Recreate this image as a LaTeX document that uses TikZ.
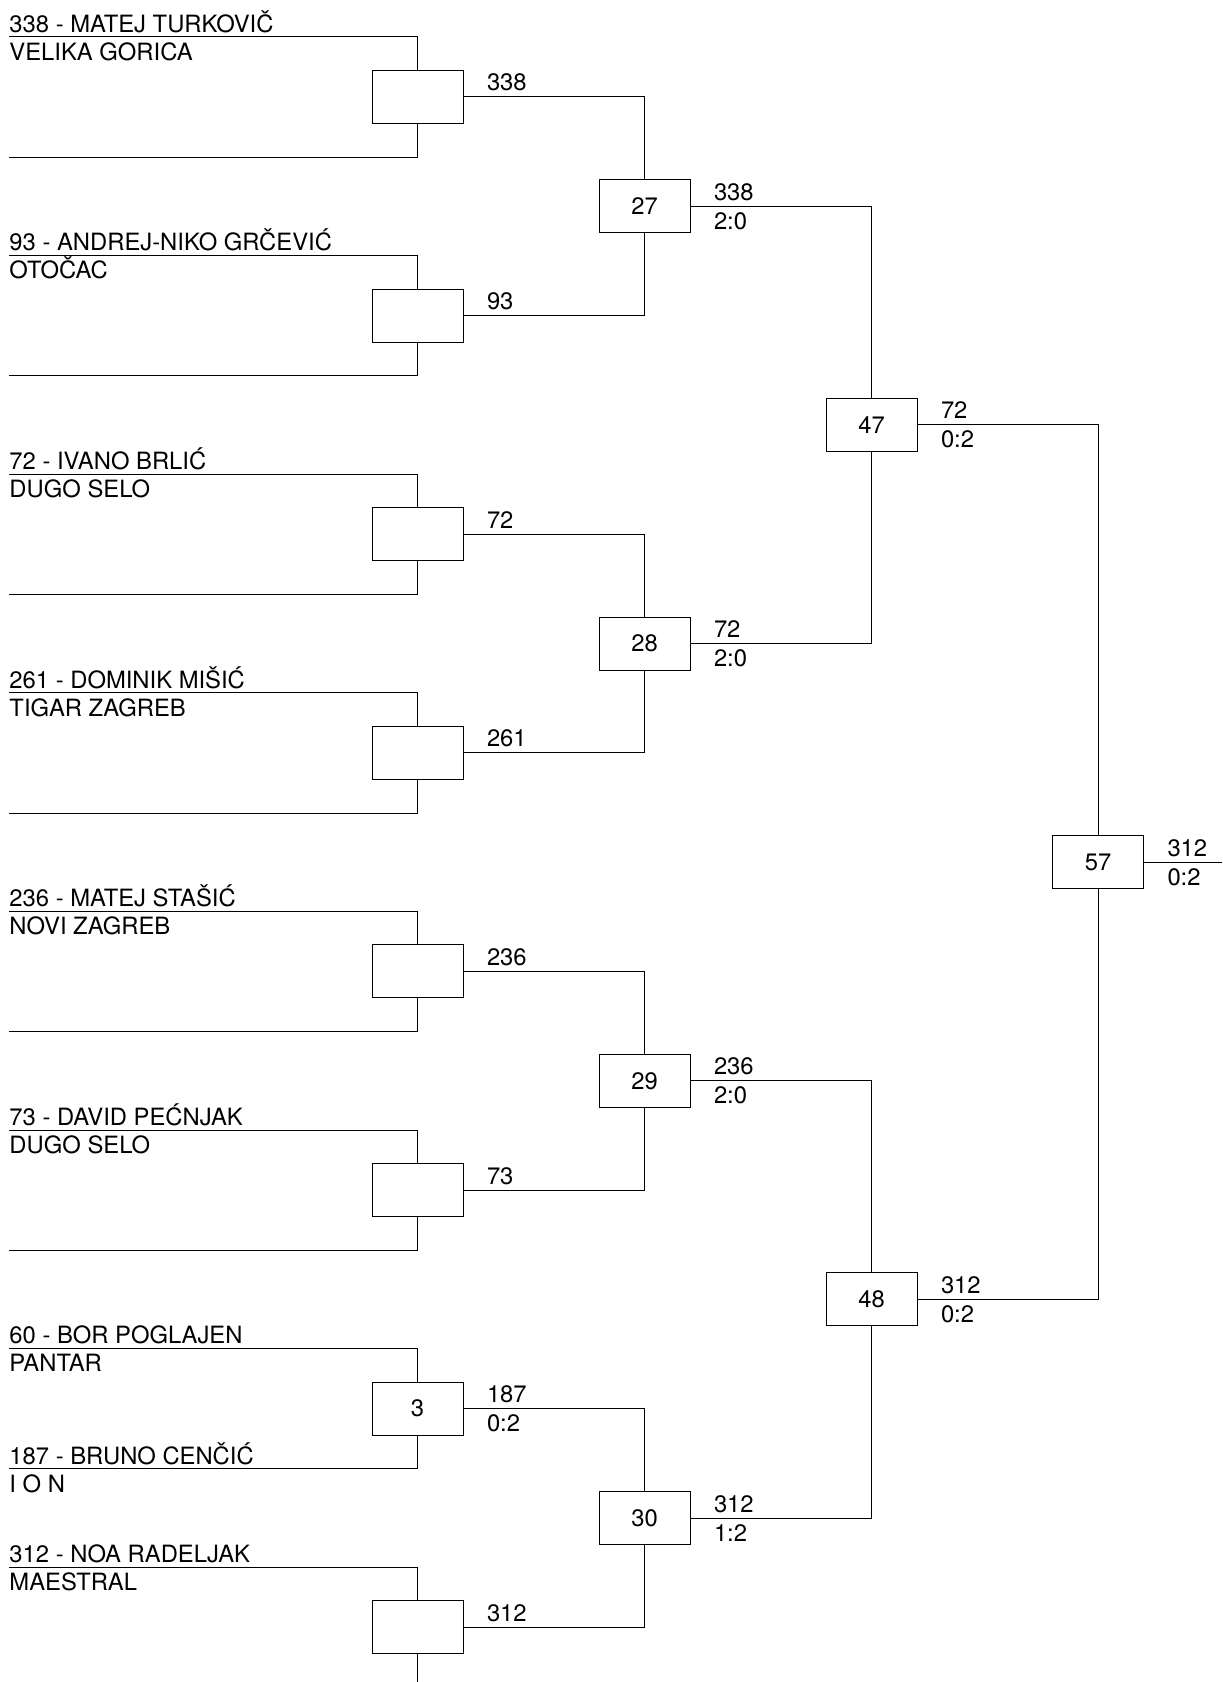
\documentclass[tikz,border=0pt]{standalone}
\usepackage{fontspec}
\setmainfont{TeX Gyre Heros}

\begin{document}
\begin{tikzpicture}[x=0.5pt,y=-0.5pt,line width=0.5pt]
	\tikzset{match/.style={draw,minimum width=45.5pt,minimum height=26.5pt,inner sep=0pt}}
	\tikzset{player/.style={anchor=base west,inner sep=0pt,yshift=2.35pt}}
	\tikzset{club/.style={anchor=base west,inner sep=0pt,yshift=-11.65pt}}
	\tikzset{winner/.style={anchor=base west,inner sep=0pt,xshift=11.5pt,yshift=3pt}}
	\tikzset{score/.style={anchor=base west,inner sep=0pt,xshift=11.5pt,yshift=-11.5pt}}
	\fontsize{11.9}{14}\selectfont
	\clip (0,0) rectangle (1222,1682);
	% first round
	\node[match] (r1) at (417.5,96.8) {};
	\node[match] (r2) at (417.5,315.5) {};
	\node[match] (r3) at (417.5,534.1) {};
	\node[match] (r4) at (417.5,752.8) {};
	\node[match] (r5) at (417.5,971.4) {};
	\node[match] (r6) at (417.5,1190.1) {};
	\node[match] (r7) at (417.5,1408.7) {3};
	\node[match] (r8) at (417.5,1627.4) {};
	\foreach \i/\t/\b in {1/36.7/157.0,2/255.4/375.7,3/474.0/594.3,4/692.7/813.0,
	                      5/911.3/1031.6,6/1130.0/1250.3,7/1348.6/1468.9,8/1567.3/1687.6} {
	    \coordinate (t\i) at (9,\t);
	    \coordinate (b\i) at (9,\b);
	    \draw (t\i) -| (r\i.north);
	    \draw (b\i) -| (r\i.south);
	}
	\node[player] (p1) at (t1) {338 - MATEJ TURKOVIČ};
	\node[club] (c1) at (t1) {VELIKA GORICA};
	\node[player] (p2) at (t2) {93 - ANDREJ-NIKO GRČEVIĆ};
	\node[club] (c2) at (t2) {OTOČAC};
	\node[player] (p3) at (t3) {72 - IVANO BRLIĆ};
	\node[club] (c3) at (t3) {DUGO SELO};
	\node[player] (p4) at (t4) {261 - DOMINIK MIŠIĆ};
	\node[club] (c4) at (t4) {TIGAR ZAGREB};
	\node[player] (p5) at (t5) {236 - MATEJ STAŠIĆ};
	\node[club] (c5) at (t5) {NOVI ZAGREB};
	\node[player] (p6) at (t6) {73 - DAVID PEĆNJAK};
	\node[club] (c6) at (t6) {DUGO SELO};
	\node[player] (p7) at (t7) {60 - BOR POGLAJEN};
	\node[club] (c7) at (t7) {PANTAR};
	\node[player] (p7b) at (b7) {187 - BRUNO CENČIĆ};
	\node[club] (c7b) at (b7) {I O N};
	\node[player] (p8) at (t8) {312 - NOA RADELJAK};
	\node[club] (c8) at (t8) {MAESTRAL};
	% second round
	\node[match] (q1) at (644.5,206.2) {27};
	\node[match] (q2) at (644.5,643.5) {28};
	\node[match] (q3) at (644.5,1080.8) {29};
	\node[match] (q4) at (644.5,1518.1) {30};
	\draw (r1.east) -| (q1.north);
	\draw (r2.east) -| (q1.south);
	\draw (r3.east) -| (q2.north);
	\draw (r4.east) -| (q2.south);
	\draw (r5.east) -| (q3.north);
	\draw (r6.east) -| (q3.south);
	\draw (r7.east) -| (q4.north);
	\draw (r8.east) -| (q4.south);
	\node[winner] at (r1.east) {338};
	\node[winner] at (r2.east) {93};
	\node[winner] at (r3.east) {72};
	\node[winner] at (r4.east) {261};
	\node[winner] at (r5.east) {236};
	\node[winner] at (r6.east) {73};
	\node[winner] at (r7.east) {187};
	\node[score] at (r7.east) {0:2};
	\node[winner] at (r8.east) {312};
	% semifinals
	\node[match] (s1) at (871.5,424.8) {47};
	\node[match] (s2) at (871.5,1299.4) {48};
	\draw (q1.east) -| (s1.north);
	\draw (q2.east) -| (s1.south);
	\draw (q3.east) -| (s2.north);
	\draw (q4.east) -| (s2.south);
	\node[winner] at (q1.east) {338};
	\node[score] at (q1.east) {2:0};
	\node[winner] at (q2.east) {72};
	\node[score] at (q2.east) {2:0};
	\node[winner] at (q3.east) {236};
	\node[score] at (q3.east) {2:0};
	\node[winner] at (q4.east) {312};
	\node[score] at (q4.east) {1:2};
	% final
	\node[match] (f) at (1098,862.1) {57};
	\coordinate (out) at (1222,862.1);
	\draw (s1.east) -| (f.north);
	\draw (s2.east) -| (f.south);
	\draw (f.east) -- (out);
	\node[winner] at (s1.east) {72};
	\node[score] at (s1.east) {0:2};
	\node[winner] at (s2.east) {312};
	\node[score] at (s2.east) {0:2};
	\node[winner] at (f.east) {312};
	\node[score] at (f.east) {0:2};
\end{tikzpicture}
\end{document}
